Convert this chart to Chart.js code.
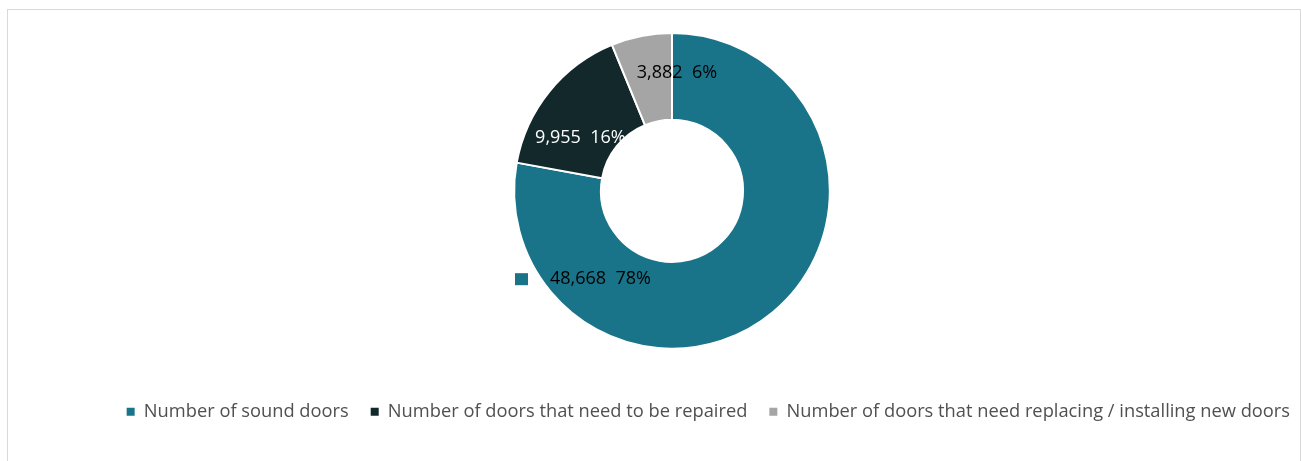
<!DOCTYPE html>
<html lang="en">
<head>
  <meta charset="UTF-8">
  <title>Doors</title>
  <script src="https://cdn.jsdelivr.net/npm/chart.js"></script>
  <style>
    body { margin: 0; background: #fff; }
    .frame {
      position: absolute; left: 7px; top: 9px;
      width: 1294px; height: 480px;
      border: 1px solid #d9d9d9; box-sizing: border-box;
    }
    .chart { position: absolute; left: 0; top: 0; width: 1301px; height: 461px; }
  </style>
</head>
<body>
  <div class="frame"></div>
  <div class="chart"><canvas id="doorChart"></canvas></div>
  <script>
    const categories = [
      'Number of sound doors',
      'Number of doors that need to be repaired',
      'Number of doors that need replacing / installing new doors'
    ];
    const doorCounts = [48668, 9955, 3882];
    const sliceColors = ['#1a7489', '#12282b', '#a5a5a5'];

    // where each value label sits: angle from top (clockwise, degrees) and share of outer radius
    const labelAngle = [219, 300, 2.4];
    const labelDist = [0.72, 0.67, 0.75];
    const labelColor = ['#000000', '#ffffff', '#000000'];

    const font = "'Open Sans', 'Noto Sans', sans-serif";
    const total = doorCounts.reduce((a, b) => a + b, 0);

    const valueLabels = {
      id: 'valueLabels',
      afterDatasetsDraw(chart) {
        const ctx = chart.ctx;
        const meta = chart.getDatasetMeta(0);
        ctx.save();
        ctx.font = '18px ' + font;
        ctx.textBaseline = 'middle';
        ctx.textAlign = 'center';
        meta.data.forEach((arc, i) => {
          const a = labelAngle[i] * Math.PI / 180;
          const r = arc.outerRadius * labelDist[i];
          const x = arc.x + Math.sin(a) * r;
          const y = arc.y - Math.cos(a) * r;
          const pct = Math.round(doorCounts[i] / total * 100);
          const text = doorCounts[i].toLocaleString('en-US') + '  ' + pct + '%';
          ctx.fillStyle = labelColor[i];
          ctx.fillText(text, x, y);
          if (i === 0) {
            // legend key shown next to this label
            const w = ctx.measureText(text).width;
            ctx.fillStyle = sliceColors[i];
            ctx.fillRect(x - w / 2 - 35, y - 6, 13, 12);
          }
        });
        ctx.restore();
      }
    };

    new Chart(document.getElementById('doorChart'), {
      type: 'doughnut',
      data: {
        labels: categories,
        datasets: [{
          data: doorCounts,
          backgroundColor: sliceColors,
          borderColor: '#ffffff',
          borderWidth: 2
        }]
      },
      options: {
        responsive: true,
        maintainAspectRatio: false,
        animation: false,
        events: [],
        cutout: '45%',
        layout: { padding: { top: 32, bottom: 30, left: 43, right: -11 } },
        plugins: {
          tooltip: { enabled: false },
          legend: {
            position: 'bottom',
            align: 'end',
            title: { display: true, text: ' ', font: { size: 10, lineHeight: 1 }, padding: { top: 21, bottom: 0 } },
            labels: {
              boxWidth: 8,
              boxHeight: 8,
              padding: 22,
              color: '#505050',
              font: { size: 18.3, family: font },
              generateLabels(chart) {
                return categories.map((c, i) => ({
                  text: c,
                  fillStyle: sliceColors[i],
                  strokeStyle: sliceColors[i],
                  lineWidth: 0,
                  fontColor: '#505050',
                  index: i
                }));
              }
            }
          }
        }
      },
      plugins: [valueLabels]
    });
  </script>
</body>
</html>
